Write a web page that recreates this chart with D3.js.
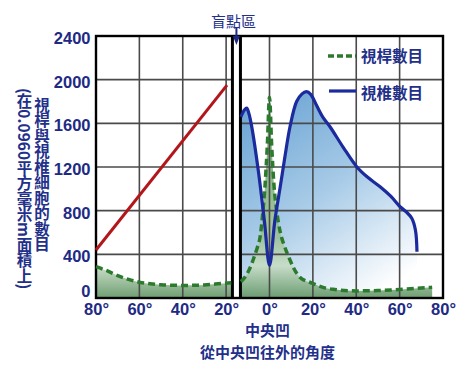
<!DOCTYPE html>
<html>
<head>
<meta charset="utf-8">
<script src="https://cdn.jsdelivr.net/npm/d3@7"></script>
<style>
body { margin: 0; background: #fff; }
.num { font-family: "Liberation Sans Narrow", "Arial Narrow", "Liberation Sans", sans-serif; font-weight: bold; font-size: 16.5px; fill: #1e2a84; }
.cjk { font-family: "Noto Sans CJK TC", "Noto Sans CJK SC", sans-serif; font-weight: bold; font-size: 15.5px; fill: #23308a; }
</style>
</head>
<body>
<div id="chart"></div>
<script>
// angle from the fovea (deg), counts per 0.0960 mm2
var xTicks = [-80, -60, -40, -20, 0, 20, 40, 60, 80];
var yTicks = [0, 400, 800, 1200, 1600, 2000, 2400];
var blindSpot = [-17.1, -13.4];

var rodsLeft = [[-80, 287], [-75, 250], [-70, 205], [-65, 170], [-60, 145], [-55, 130],
    [-50, 121], [-45, 117], [-40, 115], [-35, 116], [-30, 120], [-25, 128], [-17.6, 140]];
var rodsRight = [[-13.2, 150], [-11, 200], [-9, 275], [-7, 380], [-5.5, 470], [-4.5, 540],
    [-3, 800], [-2, 1050], [-1, 1400], [0, 1840], [1, 1400], [2, 1050], [3.3, 800], [5, 600],
    [7, 470], [9, 370], [11, 280], [14, 190], [19.5, 137], [25, 95], [30, 78], [40, 65],
    [50, 68], [56, 73], [65, 85], [75, 98]];
var cones = [[-13.2, 1660], [-11.5, 1725], [-10.5, 1740], [-9.5, 1690], [-8.2, 1570],
    [-5.2, 1172], [-2.4, 714], [0, 300], [2.5, 714], [4.8, 1000], [7, 1280], [9.45, 1569],
    [12.5, 1800], [15, 1870], [17, 1890], [19, 1865], [21.8, 1760], [24.5, 1660],
    [27.9, 1569], [34, 1380], [40.2, 1203], [45, 1110], [51, 1019], [56, 930], [60.2, 836],
    [63, 790], [65.6, 730], [67.3, 620], [68, 424]];
var redLine = [[-80, 440], [-19.6, 1950]];

var legendLabels = ["視桿數目", "視椎數目"];
var yTitle = ["視桿與視椎細胞的數目", "(在0.0960平方毫米m面積上)"];
var xTitle = ["中央凹", "從中央凹往外的角度"];
var blindLabel = "盲點區";

var chart = {
    param: {
	width: 459,
	height: 369,
	left: 96,
	right: 443,
	top: 36,
	bottom: 298,
	rod: "#2c7a2e",
	cone: "#1b2a9c",
	red: "#b3161a",
	grid: "#4a4a4a"
    },

    init: function(){
	var p = chart.param;
	var svg = d3.select("#chart").append("svg")
	    .attr("width", p.width)
	    .attr("height", p.height);
	var x = d3.scaleLinear().domain([-80, 80]).range([p.left, p.right]);
	var y = d3.scaleLinear().domain([0, 2400]).range([p.bottom, p.top]);

	chart.gradients(svg, x, y);
	chart.areas(svg, x, y);
	chart.grid(svg, x, y);
	chart.lines(svg, x, y);
	chart.axes(svg, x, y);
	chart.texts(svg, x, y);
    },

    gradients: function(svg, x, y){
	var defs = svg.append("defs");
	var blue = defs.append("linearGradient").attr("id", "coneFill")
	    .attr("gradientUnits", "userSpaceOnUse")
	    .attr("x1", x(-5)).attr("y1", y(1900))
	    .attr("x2", x(55)).attr("y2", y(100));
	blue.append("stop").attr("offset", 0).attr("stop-color", "#68a2d2");
	blue.append("stop").attr("offset", 0.5).attr("stop-color", "#a6cae7");
	blue.append("stop").attr("offset", 1).attr("stop-color", "#ffffff");

	var green = defs.append("linearGradient").attr("id", "rodFill")
	    .attr("gradientUnits", "userSpaceOnUse")
	    .attr("x1", 0).attr("y1", y(0))
	    .attr("x2", 0).attr("y2", y(1850));
	green.append("stop").attr("offset", 0).attr("stop-color", "#5f9463");
	green.append("stop").attr("offset", 0.16).attr("stop-color", "#c7dcc4");
	green.append("stop").attr("offset", 0.3).attr("stop-color", "#9cc199");
	green.append("stop").attr("offset", 1).attr("stop-color", "#5b985c");
    },

    areas: function(svg, x, y){
	var area = d3.area()
	    .x(function(d){ return x(d[0]); })
	    .y0(y(0))
	    .y1(function(d){ return y(d[1]); })
	    .curve(d3.curveCatmullRom.alpha(0.5));
	svg.append("path").datum(cones).attr("d", area).attr("fill", "url(#coneFill)");
	[rodsLeft, rodsRight].forEach(function(s){
	    svg.append("path").datum(s).attr("d", area.curve(d3.curveMonotoneX))
		.attr("fill", "url(#rodFill)").attr("fill-opacity", 0.9);
	});
    },

    grid: function(svg, x, y){
	var p = chart.param;
	svg.append("g").selectAll("line").data(xTicks.slice(1, -1)).enter().append("line")
	    .attr("x1", x).attr("x2", x)
	    .attr("y1", p.top).attr("y2", p.bottom)
	    .attr("stroke", p.grid).attr("stroke-width", 1.6);
	svg.append("g").selectAll("line").data(yTicks.slice(1, -1)).enter().append("line")
	    .attr("y1", y).attr("y2", y)
	    .attr("x1", p.left).attr("x2", p.right)
	    .attr("stroke", p.grid).attr("stroke-width", 1.6);

	// blind spot gap
	svg.append("rect")
	    .attr("x", x(blindSpot[0])).attr("width", x(blindSpot[1]) - x(blindSpot[0]))
	    .attr("y", p.top).attr("height", p.bottom - p.top)
	    .attr("fill", "#fff");
	svg.append("g").selectAll("line").data(blindSpot).enter().append("line")
	    .attr("x1", x).attr("x2", x)
	    .attr("y1", p.top).attr("y2", p.bottom)
	    .attr("stroke", "#000").attr("stroke-width", 3);

	svg.append("rect")
	    .attr("x", p.left).attr("y", p.top)
	    .attr("width", p.right - p.left).attr("height", p.bottom - p.top)
	    .attr("fill", "none").attr("stroke", "#000").attr("stroke-width", 2.4);
    },

    lines: function(svg, x, y){
	var p = chart.param;
	var line = d3.line()
	    .x(function(d){ return x(d[0]); })
	    .y(function(d){ return y(d[1]); });
	[rodsLeft, rodsRight].forEach(function(s){
	    svg.append("path").datum(s).attr("d", line.curve(d3.curveMonotoneX))
		.attr("fill", "none").attr("stroke", p.rod)
		.attr("stroke-width", 3.5).attr("stroke-dasharray", "7,4");
	});
	svg.append("path").datum(cones).attr("d", line.curve(d3.curveCatmullRom.alpha(0.5)))
	    .attr("fill", "none").attr("stroke", p.cone)
	    .attr("stroke-width", 3.2).attr("stroke-linejoin", "round");
	svg.append("path").datum(redLine).attr("d", line.curve(d3.curveLinear))
	    .attr("fill", "none").attr("stroke", p.red).attr("stroke-width", 3);
    },

    axes: function(svg, x, y){
	var p = chart.param;
	var ya = svg.append("g").attr("transform", "translate(" + p.left + ",0)")
	    .call(d3.axisLeft(y).tickValues(yTicks).tickSize(0).tickPadding(5.5)
		  .tickFormat(d3.format("d")));
	ya.select(".domain").remove();
	ya.selectAll("text").attr("class", "num").attr("fill", null)
	    .attr("dy", function(d){ return d == 0 ? "-0.12em" : "0.45em"; });

	var xa = svg.append("g").attr("transform", "translate(0," + p.bottom + ")")
	    .call(d3.axisBottom(x).tickValues(xTicks).tickSize(0).tickPadding(5)
		  .tickFormat(function(d){ return Math.abs(d) + "°"; }));
	xa.select(".domain").remove();
	xa.selectAll("text").attr("class", "num").attr("fill", null);
	[xa, ya].forEach(function(g){
	    g.attr("font-family", null).attr("font-size", null);
	});
    },

    texts: function(svg, x, y){
	var p = chart.param;
	// y title, two vertical columns
	svg.append("text").attr("class", "cjk")
	    .attr("x", 42).attr("y", 97)
	    .style("writing-mode", "vertical-rl")
	    .text(yTitle[0]);
	svg.append("text").attr("class", "cjk")
	    .attr("x", 24.5).attr("y", 88)
	    .style("writing-mode", "vertical-rl")
	    .text(yTitle[1]);

	// x title
	svg.selectAll(".xtitle").data(xTitle).enter().append("text")
	    .attr("class", "cjk xtitle").attr("text-anchor", "middle")
	    .style("font-size", "15px")
	    .attr("x", x(0) - 2)
	    .attr("y", function(d, i){ return 336 + i * 21.5; })
	    .text(function(d){ return d; });

	// blind spot label and arrow
	var bx = x(d3.mean(blindSpot));
	svg.append("text").attr("class", "cjk").attr("text-anchor", "middle")
	    .style("font-weight", "normal").style("font-size", "15px")
	    .attr("x", bx - 3).attr("y", 27).text(blindLabel);
	svg.append("line").attr("x1", bx).attr("x2", bx).attr("y1", 28).attr("y2", 38)
	    .attr("stroke", "#1e2a84").attr("stroke-width", 2);
	svg.append("path")
	    .attr("d", "M" + (bx - 3.5) + ",36L" + (bx + 3.5) + ",36L" + bx + ",45Z")
	    .attr("fill", "#1e2a84");

	// legend
	var lg = svg.append("g").attr("transform", "translate(328,0)");
	lg.append("line").attr("x1", 0).attr("x2", 28).attr("y1", 56).attr("y2", 56)
	    .attr("stroke", p.rod).attr("stroke-width", 3.5).attr("stroke-dasharray", "6,3");
	lg.append("line").attr("x1", 1).attr("x2", 28).attr("y1", 91).attr("y2", 91)
	    .attr("stroke", p.cone).attr("stroke-width", 3.2);
	lg.selectAll(".leg").data(legendLabels).enter().append("text")
	    .attr("class", "cjk leg")
	    .attr("x", 33)
	    .attr("y", function(d, i){ return 62 + i * 36.5; })
	    .text(function(d){ return d; });
    }
};

chart.init();
</script>
</body>
</html>
